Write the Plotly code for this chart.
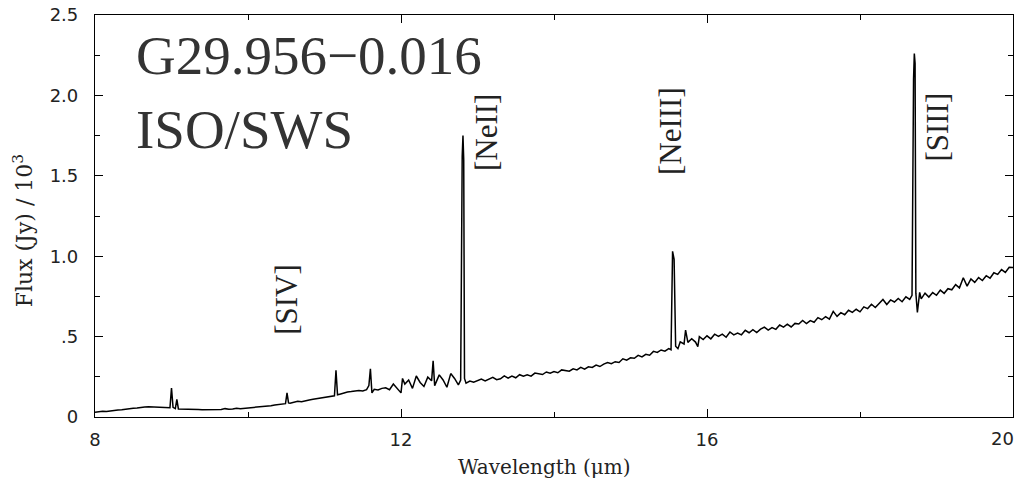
import plotly.graph_objects as go

# Wavelength (micron) and flux (Jy / 10^3)
wavelength = [
    8.00, 8.05, 8.10, 8.15, 8.20, 8.25, 8.30, 8.35, 8.40, 8.45,
    8.50, 8.55, 8.60, 8.65, 8.70, 8.75, 8.80, 8.85, 8.90, 8.95,
    8.98, 9.00, 9.02, 9.05, 9.07, 9.09, 9.15, 9.20, 9.25, 9.30,
    9.35, 9.40, 9.45, 9.50, 9.55, 9.60, 9.65, 9.70, 9.75, 9.80,
    9.85, 9.90, 9.95, 10.00, 10.05, 10.10, 10.15, 10.20, 10.25, 10.30,
    10.35, 10.40, 10.45, 10.49, 10.51, 10.53, 10.55, 10.60, 10.65, 10.70,
    10.75, 10.80, 10.85, 10.90, 10.95, 11.00, 11.05, 11.10, 11.13, 11.15,
    11.17, 11.20, 11.25, 11.30, 11.35, 11.40, 11.45, 11.50, 11.55, 11.58,
    11.60, 11.62, 11.65, 11.70, 11.75, 11.80, 11.85, 11.90, 11.95, 12.00,
    12.02, 12.05, 12.10, 12.15, 12.20, 12.25, 12.30, 12.35, 12.40, 12.42,
    12.44, 12.50, 12.55, 12.60, 12.65, 12.70, 12.75, 12.78, 12.80, 12.81,
    12.82, 12.83, 12.85, 12.90, 12.95, 13.00, 13.05, 13.10, 13.15, 13.20,
    13.25, 13.30, 13.35, 13.40, 13.45, 13.50, 13.55, 13.60, 13.65, 13.70,
    13.75, 13.80, 13.85, 13.90, 13.95, 14.00, 14.05, 14.10, 14.15, 14.20,
    14.25, 14.30, 14.35, 14.40, 14.45, 14.50, 14.55, 14.60, 14.65, 14.70,
    14.75, 14.80, 14.85, 14.90, 14.95, 15.00, 15.05, 15.10, 15.15, 15.20,
    15.25, 15.30, 15.35, 15.40, 15.45, 15.50, 15.53, 15.55, 15.57, 15.59,
    15.62, 15.65, 15.70, 15.72, 15.75, 15.80, 15.85, 15.88, 15.90, 15.95,
    16.00, 16.05, 16.10, 16.15, 16.20, 16.25, 16.30, 16.35, 16.40, 16.45,
    16.50, 16.55, 16.60, 16.65, 16.70, 16.75, 16.80, 16.85, 16.90, 16.95,
    17.00, 17.05, 17.10, 17.15, 17.20, 17.25, 17.30, 17.35, 17.40, 17.45,
    17.50, 17.55, 17.60, 17.65, 17.70, 17.75, 17.80, 17.85, 17.90, 17.95,
    18.00, 18.05, 18.10, 18.15, 18.20, 18.25, 18.30, 18.35, 18.40, 18.45,
    18.50, 18.55, 18.60, 18.65, 18.68, 18.70, 18.71, 18.72, 18.73, 18.75,
    18.78, 18.80, 18.85, 18.90, 18.95, 19.00, 19.05, 19.10, 19.15, 19.20,
    19.25, 19.30, 19.35, 19.40, 19.45, 19.50, 19.55, 19.60, 19.65, 19.70,
    19.75, 19.80, 19.85, 19.90, 19.95, 20.00,
]
flux = [
    0.030, 0.033, 0.035, 0.034, 0.038, 0.040, 0.043, 0.045, 0.049, 0.050,
    0.054, 0.056, 0.060, 0.062, 0.063, 0.062, 0.061, 0.060, 0.058, 0.056,
    0.058, 0.180, 0.060, 0.052, 0.110, 0.050, 0.050, 0.049, 0.048, 0.046,
    0.047, 0.045, 0.046, 0.044, 0.045, 0.047, 0.046, 0.052, 0.048, 0.050,
    0.055, 0.052, 0.054, 0.056, 0.060, 0.062, 0.061, 0.066, 0.068, 0.070,
    0.074, 0.078, 0.080, 0.083, 0.150, 0.088, 0.085, 0.090, 0.098, 0.095,
    0.102, 0.106, 0.110, 0.114, 0.118, 0.122, 0.125, 0.128, 0.132, 0.290,
    0.138, 0.142, 0.150, 0.156, 0.158, 0.160, 0.165, 0.162, 0.170, 0.195,
    0.300, 0.150, 0.172, 0.168, 0.178, 0.182, 0.170, 0.205, 0.180, 0.150,
    0.240, 0.205, 0.230, 0.178, 0.255, 0.215, 0.190, 0.248, 0.225, 0.350,
    0.195, 0.262, 0.230, 0.185, 0.270, 0.240, 0.200, 0.230, 1.620, 1.750,
    1.600, 0.240, 0.210, 0.224, 0.216, 0.228, 0.236, 0.224, 0.234, 0.247,
    0.232, 0.238, 0.256, 0.242, 0.255, 0.244, 0.263, 0.254, 0.262, 0.254,
    0.273, 0.268, 0.264, 0.280, 0.272, 0.283, 0.275, 0.293, 0.289, 0.285,
    0.300, 0.293, 0.309, 0.298, 0.312, 0.308, 0.323, 0.314, 0.329, 0.339,
    0.331, 0.344, 0.339, 0.362, 0.353, 0.368, 0.365, 0.383, 0.374, 0.390,
    0.384, 0.408, 0.402, 0.417, 0.409, 0.425, 0.418, 1.030, 0.980, 0.440,
    0.425, 0.467, 0.454, 0.540, 0.464, 0.487, 0.466, 0.438, 0.500, 0.482,
    0.505, 0.486, 0.515, 0.501, 0.515, 0.496, 0.529, 0.511, 0.522, 0.511,
    0.539, 0.524, 0.543, 0.525, 0.546, 0.559, 0.541, 0.556, 0.545, 0.572,
    0.559, 0.577, 0.560, 0.582, 0.578, 0.600, 0.581, 0.599, 0.589, 0.618,
    0.605, 0.624, 0.609, 0.657, 0.626, 0.649, 0.636, 0.664, 0.651, 0.670,
    0.654, 0.685, 0.674, 0.701, 0.681, 0.703, 0.731, 0.700, 0.728, 0.715,
    0.737, 0.717, 0.747, 0.731, 0.757, 2.100, 2.260, 2.200, 0.770, 0.650,
    0.775, 0.735, 0.770, 0.746, 0.774, 0.757, 0.789, 0.769, 0.798, 0.791,
    0.823, 0.803, 0.866, 0.814, 0.859, 0.837, 0.867, 0.849, 0.879, 0.863,
    0.897, 0.887, 0.917, 0.899, 0.931, 0.930,
]

line_names = ["[SIV]", "[NeII]", "[NeIII]", "[SIII]"]
label_x = [10.50, 13.12, 15.52, 19.02]
label_y = [0.73, 1.77, 1.78, 1.80]

y_tickvals = [0, 0.5, 1.0, 1.5, 2.0, 2.5]
y_ticktext = ["0", ".5", "1.0", "1.5", "2.0", "2.5"]
x_tickvals = [8, 12, 16, 20]
x_ticktext = ["8", "12", "16", ""]   # the last label ("20") is drawn right-aligned below
x_last_label = "20"

serif = "Liberation Serif"
wide_serif = "DejaVu Serif"
tick_font = dict(family="DejaVu Sans", size=18, color="#222")

fig = go.Figure()
fig.add_trace(go.Scatter(x=wavelength, y=flux, mode="lines",
                         line=dict(color="black", width=1.5), showlegend=False))

for name, lx, ly in zip(line_names, label_x, label_y):
    fig.add_annotation(x=lx, y=ly, text=name, showarrow=False, textangle=-90,
                       font=dict(family=serif, size=31, color="#222"))

fig.add_annotation(x=0.043, y=0.90, xref="paper", yref="paper", xanchor="left", yanchor="middle",
                   text="G29.956\u22120.016", showarrow=False,
                   font=dict(family=serif, size=55, color="#333"))
fig.add_annotation(x=0.043, y=0.714, xref="paper", yref="paper", xanchor="left", yanchor="middle",
                   text="ISO/SWS", showarrow=False,
                   font=dict(family=serif, size=55, color="#333"))

# last x tick label, kept inside the page
fig.add_annotation(x=x_tickvals[-1], y=0, xref="x", yref="paper", yshift=-21, xshift=3,
                   xanchor="right", yanchor="middle", text=x_last_label, showarrow=False,
                   font=tick_font)

# axis titles
fig.add_annotation(x=0.49, y=0, xref="paper", yref="paper", yshift=-50, xanchor="center", yanchor="middle",
                   text="Wavelength (\u03bcm)", showarrow=False,
                   font=dict(family=wide_serif, size=20, color="#222"))
fig.add_annotation(x=-0.079, y=0.463, xref="paper", yref="paper", xanchor="center", yanchor="middle",
                   text="Flux (Jy) / 10<sup>3</sup>", showarrow=False, textangle=-90,
                   font=dict(family=wide_serif, size=22, color="#222"))

axis_common = dict(showgrid=False, zeroline=False, showline=True, linecolor="black", linewidth=1.2,
                   mirror="ticks", ticks="inside", ticklen=8, tickcolor="black", tickwidth=1,
                   automargin=False, ticklabeloverflow="allow")

fig.update_xaxes(range=[8, 20], tickvals=x_tickvals, ticktext=x_ticktext,
                 minor=dict(dtick=2, ticks="inside", ticklen=5, tickcolor="black"),
                 tickfont=tick_font, ticklabelstandoff=6, **axis_common)
fig.update_yaxes(range=[0, 2.5], tickvals=y_tickvals, ticktext=y_ticktext,
                 minor=dict(dtick=0.25, ticks="inside", ticklen=5, tickcolor="black"),
                 tickfont=tick_font, ticklabelstandoff=12, **axis_common)

# page body has an 8px margin: size figure so the plot area lands where the reference's does
fig.update_layout(width=1016, height=470, margin=dict(l=87, r=11, t=7, b=61),
                  plot_bgcolor="white", paper_bgcolor="white")

fig.write_html("out.html")
